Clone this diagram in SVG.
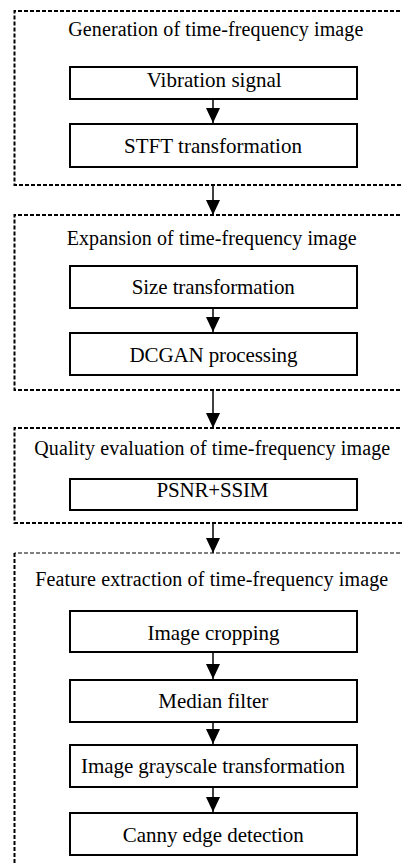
<svg xmlns="http://www.w3.org/2000/svg" width="402" height="865" viewBox="0 0 402 865">
<style>
  .grp { fill: none; stroke: #000; stroke-width: 2; stroke-dasharray: 4 2; }
  .grp-thin { fill: none; stroke: #000; stroke-width: 1; stroke-dasharray: 4 2; }
  .box { fill: #fff; stroke: #000; stroke-width: 2; }
  .title { font-family: "Liberation Serif", "Times New Roman", "DejaVu Serif", serif; font-size: 20px; fill: #000; text-anchor: middle; }
  .lbl { font-family: "Liberation Serif", "Times New Roman", "DejaVu Serif", serif; font-size: 21px; fill: #000; text-anchor: middle; }
  .conn { stroke: #000; stroke-width: 1.5; fill: none; marker-end: url(#ah); }
</style>
<defs>
  <marker id="ah" markerUnits="userSpaceOnUse" viewBox="0 0 15 14" refX="15" refY="7" markerWidth="15" markerHeight="14" orient="auto">
    <path d="M0,0 L15,7 L0,14 z" fill="#000"/>
  </marker>
</defs>
<rect width="402" height="865" fill="#fff"/>

<g id="group1">
  <path class="grp" d="M406,11 H14.5 V185 H406"/>
  <text class="title" x="215.8" y="36" textLength="295">Generation of time-frequency image</text>
</g>
<g id="group2">
  <path class="grp" d="M406,215 H14.5 V390 H406"/>
  <text class="title" x="211.7" y="245" textLength="290">Expansion of time-frequency image</text>
</g>
<g id="group3">
  <path class="grp" d="M406,428 H14.5 V523 H406"/>
  <text class="title" x="212.2" y="455" textLength="356">Quality evaluation of time-frequency image</text>
</g>
<g id="group4">
  <path class="grp-thin" d="M406,553 H14.5"/>
  <path class="grp" d="M14.5,553 V870"/>
  <text class="title" x="211.7" y="586" textLength="353">Feature extraction of time-frequency image</text>
</g>

<g id="n-vibration"><rect class="box" x="70" y="67" width="287" height="32"/><text class="lbl" x="214.2" y="87" textLength="135">Vibration signal</text></g>
<g id="n-stft"><rect class="box" x="70" y="124" width="287" height="43"/><text class="lbl" x="213" y="153" textLength="178">STFT transformation</text></g>
<g id="n-size"><rect class="box" x="70" y="266" width="287" height="42"/><text class="lbl" x="213.3" y="294" textLength="163">Size transformation</text></g>
<g id="n-dcgan"><rect class="box" x="70" y="333" width="287" height="42"/><text class="lbl" x="213.5" y="362" textLength="168">DCGAN processing</text></g>
<g id="n-psnr"><rect class="box" x="70" y="479" width="287" height="31"/><text class="lbl" x="212.5" y="497" textLength="112">PSNR+SSIM</text></g>
<g id="n-crop"><rect class="box" x="70" y="611" width="287" height="41"/><text class="lbl" x="213.5" y="640" textLength="132">Image cropping</text></g>
<g id="n-median"><rect class="box" x="70" y="680" width="287" height="42"/><text class="lbl" x="213.3" y="708" textLength="110">Median filter</text></g>
<g id="n-gray"><rect class="box" x="70" y="745" width="287" height="42"/><text class="lbl" x="213" y="773" textLength="264">Image grayscale transformation</text></g>
<g id="n-canny"><rect class="box" x="70" y="813" width="287" height="42"/><text class="lbl" x="213.3" y="842" textLength="181">Canny edge detection</text></g>

<g id="connectors">
  <line class="conn" x1="213" y1="100" x2="213" y2="123"/>
  <line class="conn" x1="213" y1="186" x2="213" y2="215"/>
  <line class="conn" x1="213" y1="309" x2="213" y2="332"/>
  <line class="conn" x1="213" y1="391" x2="213" y2="428"/>
  <line class="conn" x1="213" y1="524" x2="213" y2="553"/>
  <line class="conn" x1="213" y1="653" x2="213" y2="679"/>
  <line class="conn" x1="213" y1="723" x2="213" y2="744"/>
  <line class="conn" x1="213" y1="788" x2="213" y2="812"/>
</g>
</svg>
